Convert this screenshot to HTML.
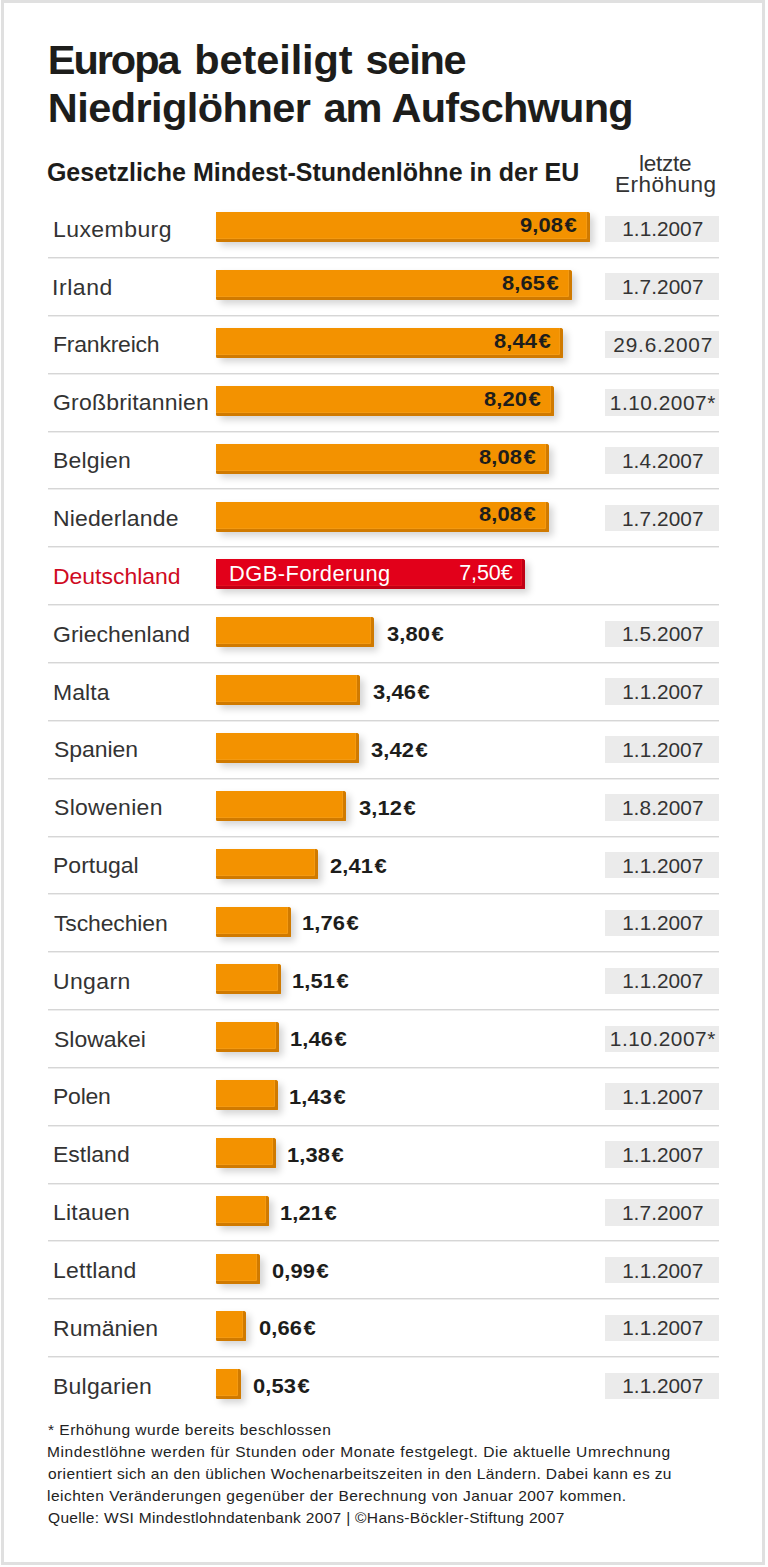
<!DOCTYPE html>
<html><head><meta charset="utf-8">
<style>
html,body{margin:0;padding:0;background:#fff;}
body{width:768px;height:1567px;position:relative;overflow:hidden;font-family:"Liberation Sans",sans-serif;color:#1d1d1b;}
.frame{position:absolute;left:1px;top:0;width:758px;height:1559px;border:3px solid #e0e0e0;}
.t{position:absolute;white-space:nowrap;}
.bar{position:absolute;left:216.25px;height:30px;background:#f39200;border-radius:0 3px 1px 2px;box-shadow:inset -3px -3px 0 #d07a00, inset -4px -4px 0 #f49a12, 4px 4px 7px rgba(0,0,0,0.17);}
.rbar{background:#e2001a;box-shadow:inset -3px -3px 0 #c10015, inset -4px -4px 0 #e4101f, 4px 4px 7px rgba(0,0,0,0.17);}
.date{position:absolute;left:604.6px;width:114.8px;height:26.5px;background:#ebebeb;}
.sep{position:absolute;left:48px;width:671px;height:1px;background:#d6d6d6;box-shadow:0 1px 0 #ededed;}
</style></head><body>
<div class="frame"></div>
<div class="bar" style="top:212.30px;width:373.28px"></div>
<div class="date" style="top:215.60px"></div>
<div class="sep" style="top:257.00px"></div>
<div class="bar" style="top:270.15px;width:355.75px"></div>
<div class="date" style="top:273.45px"></div>
<div class="sep" style="top:314.85px"></div>
<div class="bar" style="top:328.00px;width:347.18px"></div>
<div class="date" style="top:331.30px"></div>
<div class="sep" style="top:372.70px"></div>
<div class="bar" style="top:385.85px;width:337.40px"></div>
<div class="date" style="top:389.15px"></div>
<div class="sep" style="top:430.55px"></div>
<div class="bar" style="top:443.70px;width:332.50px"></div>
<div class="date" style="top:447.00px"></div>
<div class="sep" style="top:488.40px"></div>
<div class="bar" style="top:501.55px;width:332.50px"></div>
<div class="date" style="top:504.85px"></div>
<div class="sep" style="top:546.25px"></div>
<div class="bar rbar" style="top:559.40px;width:308.85px"></div>
<div class="sep" style="top:604.10px"></div>
<div class="bar" style="top:617.25px;width:157.96px"></div>
<div class="date" style="top:620.55px"></div>
<div class="sep" style="top:661.95px"></div>
<div class="bar" style="top:675.10px;width:144.10px"></div>
<div class="date" style="top:678.40px"></div>
<div class="sep" style="top:719.80px"></div>
<div class="bar" style="top:732.95px;width:142.47px"></div>
<div class="date" style="top:736.25px"></div>
<div class="sep" style="top:777.65px"></div>
<div class="bar" style="top:790.80px;width:130.23px"></div>
<div class="date" style="top:794.10px"></div>
<div class="sep" style="top:835.50px"></div>
<div class="bar" style="top:848.65px;width:101.28px"></div>
<div class="date" style="top:851.95px"></div>
<div class="sep" style="top:893.35px"></div>
<div class="bar" style="top:906.50px;width:74.77px"></div>
<div class="date" style="top:909.80px"></div>
<div class="sep" style="top:951.20px"></div>
<div class="bar" style="top:964.35px;width:64.58px"></div>
<div class="date" style="top:967.65px"></div>
<div class="sep" style="top:1009.05px"></div>
<div class="bar" style="top:1022.20px;width:62.54px"></div>
<div class="date" style="top:1025.50px"></div>
<div class="sep" style="top:1066.90px"></div>
<div class="bar" style="top:1080.05px;width:61.32px"></div>
<div class="date" style="top:1083.35px"></div>
<div class="sep" style="top:1124.75px"></div>
<div class="bar" style="top:1137.90px;width:59.28px"></div>
<div class="date" style="top:1141.20px"></div>
<div class="sep" style="top:1182.60px"></div>
<div class="bar" style="top:1195.75px;width:52.34px"></div>
<div class="date" style="top:1199.05px"></div>
<div class="sep" style="top:1240.45px"></div>
<div class="bar" style="top:1253.60px;width:43.37px"></div>
<div class="date" style="top:1256.90px"></div>
<div class="sep" style="top:1298.30px"></div>
<div class="bar" style="top:1311.45px;width:29.91px"></div>
<div class="date" style="top:1314.75px"></div>
<div class="sep" style="top:1356.15px"></div>
<div class="bar" style="top:1369.30px;width:24.61px"></div>
<div class="date" style="top:1372.60px"></div>
<div class="t" style="left:47.80px;top:38.77px;font-size:41.5px;line-height:41.5px;letter-spacing:-2.036px;font-weight:bold">Europa</div>
<div class="t" style="left:194.20px;top:38.77px;font-size:41.5px;line-height:41.5px;letter-spacing:-0.084px;font-weight:bold">beteiligt</div>
<div class="t" style="left:365.50px;top:38.77px;font-size:41.5px;line-height:41.5px;letter-spacing:-1.235px;font-weight:bold">seine</div>
<div class="t" style="left:47.80px;top:86.87px;font-size:41.5px;line-height:41.5px;letter-spacing:-0.560px;font-weight:bold">Niedriglöhner</div>
<div class="t" style="left:323.60px;top:86.87px;font-size:41.5px;line-height:41.5px;letter-spacing:-1.180px;font-weight:bold">am</div>
<div class="t" style="left:391.50px;top:86.87px;font-size:41.5px;line-height:41.5px;letter-spacing:-0.764px;font-weight:bold">Aufschwung</div>
<div class="t" style="left:46.90px;top:159.54px;font-size:25px;line-height:25px;letter-spacing:0.011px;font-weight:bold">Gesetzliche Mindest-Stundenlöhne in der EU</div>
<div class="t" style="left:638.66px;top:153.03px;font-size:21.7px;line-height:21.7px;letter-spacing:-0.241px;color:#333;transform:scaleX(1.04);transform-origin:0 0">letzte</div>
<div class="t" style="left:614.56px;top:173.83px;font-size:21.7px;line-height:21.7px;letter-spacing:0.429px;color:#333;transform:scaleX(1.04);transform-origin:0 0">Erhöhung</div>
<div class="t" style="left:48.10px;top:1423.07px;font-size:14.8px;line-height:14.8px;letter-spacing:0.458px;color:#222;transform:scaleX(1.05);transform-origin:0 0">* Erhöhung wurde bereits beschlossen</div>
<div class="t" style="left:47.05px;top:1445.02px;font-size:14.8px;line-height:14.8px;letter-spacing:0.544px;color:#222;transform:scaleX(1.05);transform-origin:0 0">Mindestlöhne werden für Stunden oder Monate festgelegt. Die aktuelle Umrechnung</div>
<div class="t" style="left:48.10px;top:1466.97px;font-size:14.8px;line-height:14.8px;letter-spacing:0.359px;color:#222;transform:scaleX(1.05);transform-origin:0 0">orientiert sich an den üblichen Wochenarbeitszeiten in den Ländern. Dabei kann es zu</div>
<div class="t" style="left:47.05px;top:1488.92px;font-size:14.8px;line-height:14.8px;letter-spacing:0.452px;color:#222;transform:scaleX(1.05);transform-origin:0 0">leichten Veränderungen gegenüber der Berechnung von Januar 2007 kommen.</div>
<div class="t" style="left:48.10px;top:1510.87px;font-size:14.8px;line-height:14.8px;letter-spacing:0.286px;color:#222;transform:scaleX(1.05);transform-origin:0 0">Quelle: WSI Mindestlohndatenbank 2007 | ©Hans-Böckler-Stiftung 2007</div>
<div class="t" style="left:52.94px;top:218.73px;font-size:21.7px;line-height:21.7px;letter-spacing:0.410px;color:#333;transform:scaleX(1.06);transform-origin:0 0">Luxemburg</div>
<div class="t" style="left:519.66px;top:215.11px;font-size:20.9px;line-height:20.9px;letter-spacing:0.100px;font-weight:bold;transform:scaleX(1.05);transform-origin:0 0">9,08<span style="margin-left:1.3px">€</span></div>
<div class="t" style="left:622.31px;top:219.29px;font-size:20.8px;line-height:20.8px;letter-spacing:0.000px;color:#333">1.1.2007</div>
<div class="t" style="left:51.88px;top:276.58px;font-size:21.7px;line-height:21.7px;letter-spacing:0.517px;color:#333;transform:scaleX(1.06);transform-origin:0 0">Irland</div>
<div class="t" style="left:502.12px;top:272.96px;font-size:20.9px;line-height:20.9px;letter-spacing:0.100px;font-weight:bold;transform:scaleX(1.05);transform-origin:0 0">8,65<span style="margin-left:1.3px">€</span></div>
<div class="t" style="left:621.96px;top:277.14px;font-size:20.8px;line-height:20.8px;letter-spacing:0.100px;color:#333">1.7.2007</div>
<div class="t" style="left:52.94px;top:334.43px;font-size:21.7px;line-height:21.7px;letter-spacing:-0.210px;color:#333;transform:scaleX(1.06);transform-origin:0 0">Frankreich</div>
<div class="t" style="left:493.56px;top:330.81px;font-size:20.9px;line-height:20.9px;letter-spacing:0.100px;font-weight:bold;transform:scaleX(1.05);transform-origin:0 0">8,44<span style="margin-left:1.3px">€</span></div>
<div class="t" style="left:613.36px;top:334.99px;font-size:20.8px;line-height:20.8px;letter-spacing:0.790px;color:#333">29.6.2007</div>
<div class="t" style="left:52.94px;top:392.28px;font-size:21.7px;line-height:21.7px;letter-spacing:0.185px;color:#333;transform:scaleX(1.06);transform-origin:0 0">Großbritannien</div>
<div class="t" style="left:483.77px;top:388.66px;font-size:20.9px;line-height:20.9px;letter-spacing:0.100px;font-weight:bold;transform:scaleX(1.05);transform-origin:0 0">8,20<span style="margin-left:1.3px">€</span></div>
<div class="t" style="left:609.86px;top:392.84px;font-size:20.8px;line-height:20.8px;letter-spacing:0.530px;color:#333">1.10.2007*</div>
<div class="t" style="left:52.94px;top:450.13px;font-size:21.7px;line-height:21.7px;letter-spacing:0.172px;color:#333;transform:scaleX(1.06);transform-origin:0 0">Belgien</div>
<div class="t" style="left:478.88px;top:446.51px;font-size:20.9px;line-height:20.9px;letter-spacing:0.100px;font-weight:bold;transform:scaleX(1.05);transform-origin:0 0">8,08<span style="margin-left:1.3px">€</span></div>
<div class="t" style="left:621.96px;top:450.69px;font-size:20.8px;line-height:20.8px;letter-spacing:0.100px;color:#333">1.4.2007</div>
<div class="t" style="left:52.94px;top:507.98px;font-size:21.7px;line-height:21.7px;letter-spacing:0.137px;color:#333;transform:scaleX(1.06);transform-origin:0 0">Niederlande</div>
<div class="t" style="left:478.88px;top:504.36px;font-size:20.9px;line-height:20.9px;letter-spacing:0.100px;font-weight:bold;transform:scaleX(1.05);transform-origin:0 0">8,08<span style="margin-left:1.3px">€</span></div>
<div class="t" style="left:621.96px;top:508.54px;font-size:20.8px;line-height:20.8px;letter-spacing:0.100px;color:#333">1.7.2007</div>
<div class="t" style="left:52.94px;top:565.83px;font-size:21.7px;line-height:21.7px;letter-spacing:-0.020px;color:#cf0a22;transform:scaleX(1.06);transform-origin:0 0">Deutschland</div>
<div class="t" style="left:229.27px;top:563.05px;font-size:21.2px;line-height:21.2px;letter-spacing:0.485px;color:#fff;transform:scaleX(1.03);transform-origin:0 0">DGB-Forderung</div>
<div class="t" style="left:459.20px;top:562.90px;font-size:21.5px;line-height:21.5px;letter-spacing:-0.086px;color:#fff">7,50€</div>
<div class="t" style="left:52.94px;top:623.68px;font-size:21.7px;line-height:21.7px;letter-spacing:0.029px;color:#333;transform:scaleX(1.06);transform-origin:0 0">Griechenland</div>
<div class="t" style="left:386.71px;top:624.16px;font-size:20.9px;line-height:20.9px;letter-spacing:0.100px;font-weight:bold;transform:scaleX(1.05);transform-origin:0 0">3,80<span style="margin-left:1.3px">€</span></div>
<div class="t" style="left:621.96px;top:624.24px;font-size:20.8px;line-height:20.8px;letter-spacing:0.100px;color:#333">1.5.2007</div>
<div class="t" style="left:52.94px;top:681.53px;font-size:21.7px;line-height:21.7px;letter-spacing:0.059px;color:#333;transform:scaleX(1.06);transform-origin:0 0">Malta</div>
<div class="t" style="left:372.85px;top:682.01px;font-size:20.9px;line-height:20.9px;letter-spacing:0.100px;font-weight:bold;transform:scaleX(1.05);transform-origin:0 0">3,46<span style="margin-left:1.3px">€</span></div>
<div class="t" style="left:622.31px;top:682.09px;font-size:20.8px;line-height:20.8px;letter-spacing:0.000px;color:#333">1.1.2007</div>
<div class="t" style="left:54.00px;top:739.38px;font-size:21.7px;line-height:21.7px;letter-spacing:-0.054px;color:#333;transform:scaleX(1.06);transform-origin:0 0">Spanien</div>
<div class="t" style="left:371.22px;top:739.86px;font-size:20.9px;line-height:20.9px;letter-spacing:0.100px;font-weight:bold;transform:scaleX(1.05);transform-origin:0 0">3,42<span style="margin-left:1.3px">€</span></div>
<div class="t" style="left:622.31px;top:739.94px;font-size:20.8px;line-height:20.8px;letter-spacing:0.000px;color:#333">1.1.2007</div>
<div class="t" style="left:54.00px;top:797.23px;font-size:21.7px;line-height:21.7px;letter-spacing:0.277px;color:#333;transform:scaleX(1.06);transform-origin:0 0">Slowenien</div>
<div class="t" style="left:358.98px;top:797.71px;font-size:20.9px;line-height:20.9px;letter-spacing:0.100px;font-weight:bold;transform:scaleX(1.05);transform-origin:0 0">3,12<span style="margin-left:1.3px">€</span></div>
<div class="t" style="left:621.96px;top:797.79px;font-size:20.8px;line-height:20.8px;letter-spacing:0.100px;color:#333">1.8.2007</div>
<div class="t" style="left:52.94px;top:855.08px;font-size:21.7px;line-height:21.7px;letter-spacing:0.014px;color:#333;transform:scaleX(1.06);transform-origin:0 0">Portugal</div>
<div class="t" style="left:330.03px;top:855.56px;font-size:20.9px;line-height:20.9px;letter-spacing:0.100px;font-weight:bold;transform:scaleX(1.05);transform-origin:0 0">2,41<span style="margin-left:1.3px">€</span></div>
<div class="t" style="left:622.31px;top:855.64px;font-size:20.8px;line-height:20.8px;letter-spacing:0.000px;color:#333">1.1.2007</div>
<div class="t" style="left:54.00px;top:912.93px;font-size:21.7px;line-height:21.7px;letter-spacing:-0.135px;color:#333;transform:scaleX(1.06);transform-origin:0 0">Tschechien</div>
<div class="t" style="left:302.47px;top:913.41px;font-size:20.9px;line-height:20.9px;letter-spacing:0.100px;font-weight:bold;transform:scaleX(1.05);transform-origin:0 0">1,76<span style="margin-left:1.3px">€</span></div>
<div class="t" style="left:622.31px;top:913.49px;font-size:20.8px;line-height:20.8px;letter-spacing:0.000px;color:#333">1.1.2007</div>
<div class="t" style="left:52.94px;top:970.78px;font-size:21.7px;line-height:21.7px;letter-spacing:0.337px;color:#333;transform:scaleX(1.06);transform-origin:0 0">Ungarn</div>
<div class="t" style="left:292.28px;top:971.26px;font-size:20.9px;line-height:20.9px;letter-spacing:0.100px;font-weight:bold;transform:scaleX(1.05);transform-origin:0 0">1,51<span style="margin-left:1.3px">€</span></div>
<div class="t" style="left:622.31px;top:971.34px;font-size:20.8px;line-height:20.8px;letter-spacing:0.000px;color:#333">1.1.2007</div>
<div class="t" style="left:54.00px;top:1028.63px;font-size:21.7px;line-height:21.7px;letter-spacing:-0.004px;color:#333;transform:scaleX(1.06);transform-origin:0 0">Slowakei</div>
<div class="t" style="left:290.24px;top:1029.11px;font-size:20.9px;line-height:20.9px;letter-spacing:0.100px;font-weight:bold;transform:scaleX(1.05);transform-origin:0 0">1,46<span style="margin-left:1.3px">€</span></div>
<div class="t" style="left:609.86px;top:1029.19px;font-size:20.8px;line-height:20.8px;letter-spacing:0.530px;color:#333">1.10.2007*</div>
<div class="t" style="left:52.94px;top:1086.48px;font-size:21.7px;line-height:21.7px;letter-spacing:-0.215px;color:#333;transform:scaleX(1.06);transform-origin:0 0">Polen</div>
<div class="t" style="left:289.02px;top:1086.96px;font-size:20.9px;line-height:20.9px;letter-spacing:0.100px;font-weight:bold;transform:scaleX(1.05);transform-origin:0 0">1,43<span style="margin-left:1.3px">€</span></div>
<div class="t" style="left:622.31px;top:1087.04px;font-size:20.8px;line-height:20.8px;letter-spacing:0.000px;color:#333">1.1.2007</div>
<div class="t" style="left:52.94px;top:1144.33px;font-size:21.7px;line-height:21.7px;letter-spacing:0.001px;color:#333;transform:scaleX(1.06);transform-origin:0 0">Estland</div>
<div class="t" style="left:286.98px;top:1144.81px;font-size:20.9px;line-height:20.9px;letter-spacing:0.100px;font-weight:bold;transform:scaleX(1.05);transform-origin:0 0">1,38<span style="margin-left:1.3px">€</span></div>
<div class="t" style="left:622.31px;top:1144.89px;font-size:20.8px;line-height:20.8px;letter-spacing:0.000px;color:#333">1.1.2007</div>
<div class="t" style="left:52.94px;top:1202.18px;font-size:21.7px;line-height:21.7px;letter-spacing:0.199px;color:#333;transform:scaleX(1.06);transform-origin:0 0">Litauen</div>
<div class="t" style="left:280.04px;top:1202.66px;font-size:20.9px;line-height:20.9px;letter-spacing:0.100px;font-weight:bold;transform:scaleX(1.05);transform-origin:0 0">1,21<span style="margin-left:1.3px">€</span></div>
<div class="t" style="left:621.96px;top:1202.74px;font-size:20.8px;line-height:20.8px;letter-spacing:0.100px;color:#333">1.7.2007</div>
<div class="t" style="left:52.94px;top:1260.03px;font-size:21.7px;line-height:21.7px;letter-spacing:0.213px;color:#333;transform:scaleX(1.06);transform-origin:0 0">Lettland</div>
<div class="t" style="left:272.12px;top:1260.51px;font-size:20.9px;line-height:20.9px;letter-spacing:0.100px;font-weight:bold;transform:scaleX(1.05);transform-origin:0 0">0,99<span style="margin-left:1.3px">€</span></div>
<div class="t" style="left:622.31px;top:1260.59px;font-size:20.8px;line-height:20.8px;letter-spacing:0.000px;color:#333">1.1.2007</div>
<div class="t" style="left:52.94px;top:1317.88px;font-size:21.7px;line-height:21.7px;letter-spacing:0.040px;color:#333;transform:scaleX(1.06);transform-origin:0 0">Rumänien</div>
<div class="t" style="left:258.66px;top:1318.36px;font-size:20.9px;line-height:20.9px;letter-spacing:0.100px;font-weight:bold;transform:scaleX(1.05);transform-origin:0 0">0,66<span style="margin-left:1.3px">€</span></div>
<div class="t" style="left:622.31px;top:1318.44px;font-size:20.8px;line-height:20.8px;letter-spacing:0.000px;color:#333">1.1.2007</div>
<div class="t" style="left:52.94px;top:1375.73px;font-size:21.7px;line-height:21.7px;letter-spacing:0.207px;color:#333;transform:scaleX(1.06);transform-origin:0 0">Bulgarien</div>
<div class="t" style="left:253.36px;top:1376.21px;font-size:20.9px;line-height:20.9px;letter-spacing:0.100px;font-weight:bold;transform:scaleX(1.05);transform-origin:0 0">0,53<span style="margin-left:1.3px">€</span></div>
<div class="t" style="left:622.31px;top:1376.29px;font-size:20.8px;line-height:20.8px;letter-spacing:0.000px;color:#333">1.1.2007</div>
</body></html>
